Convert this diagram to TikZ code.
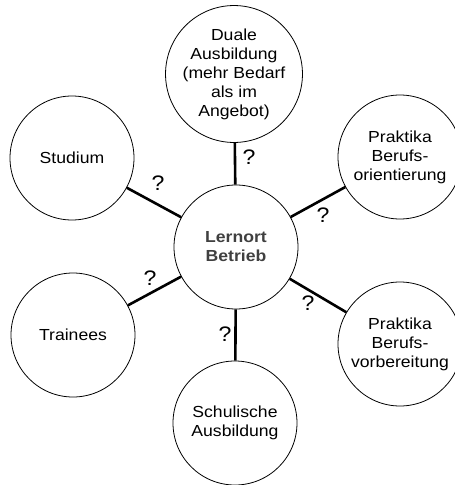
\documentclass[tikz,border=0pt]{standalone}
\usepackage{fontspec}
\setmainfont{Liberation Sans}[FakeStretch=1.1]
\begin{document}
\begin{tikzpicture}[x=1pt,y=-1pt,
  topic/.style={circle,draw=black,line width=0.8pt,minimum size=124pt,inner sep=0pt,align=center,font=\fontsize{16}{19}\selectfont},
  hub/.style={topic,font=\fontsize{16}{19}\selectfont\bfseries,text=black!75},
  link/.style={line width=2.6pt},
  qm/.style={font=\fontsize{21}{21}\selectfont,inner sep=0pt}]
\useasboundingbox (0,0) rectangle (455,485);
\node[hub] (c) at (236,247) {Lernort\\Betrieb};
\node[topic] (d) at (234,74) {Duale\\Ausbildung\\(mehr Bedarf\\als im\\Angebot)};
\node[topic] (po) at (400,157) {Praktika\\Berufs-\\orientierung};
\node[topic] (pv) at (400,344) {Praktika\\Berufs-\\vorbereitung};
\node[topic] (s) at (72,158) {Studium};
\node[topic] (t) at (73,335) {Trainees};
\node[topic] (sa) at (235,423) {Schulische\\Ausbildung};
\draw[link] (c) -- (d);
\draw[link] (c) -- (po);
\draw[link] (c) -- (pv);
\draw[link] (c) -- (s);
\draw[link] (c) -- (t);
\draw[link] (c) -- (sa);
\node[qm] (q1) at (249,157) {?};
\node[qm] (q2) at (323,215) {?};
\node[qm] (q3) at (308,303) {?};
\node[qm] (q4) at (158,183) {?};
\node[qm] (q5) at (150,278) {?};
\node[qm] (q6) at (225,334) {?};
\end{tikzpicture}
\end{document}
